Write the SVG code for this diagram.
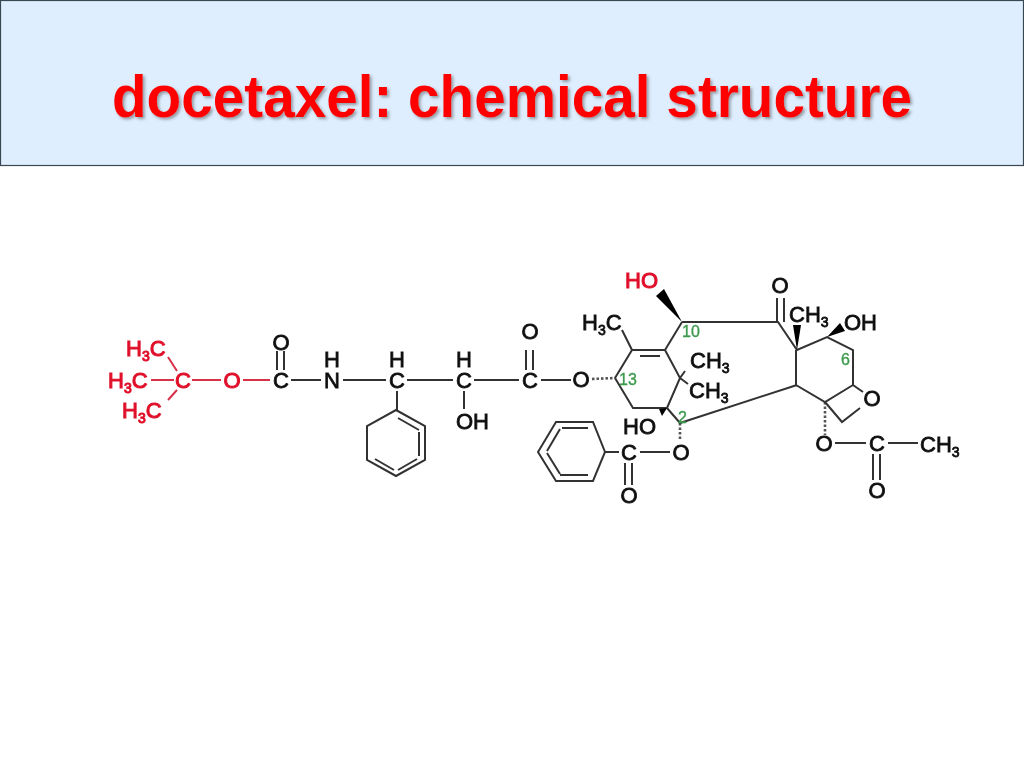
<svg xmlns="http://www.w3.org/2000/svg" width="1024" height="768" viewBox="0 0 1024 768">
<defs>
<filter id="ts" x="-5%" y="-20%" width="110%" height="140%"><feDropShadow dx="2" dy="2" stdDeviation="1.5" flood-color="#555" flood-opacity="0.55"/></filter>
<filter id="soft" x="-5%" y="-5%" width="110%" height="110%"><feGaussianBlur stdDeviation="0.5"/></filter>
</defs>
<style>
.a{font-family:"Liberation Sans",Arial,sans-serif;font-size:22px;fill:#111;stroke:#111;stroke-width:.8}
.am{text-anchor:middle}
.r{fill:#e0102a;stroke:#e0102a;stroke-width:1}
.s{font-size:14px}
.n{font-family:"Liberation Sans",Arial,sans-serif;font-size:16px;fill:#3d9a4e;stroke:#3d9a4e;stroke-width:.35}
.b{fill:none;stroke:#333;stroke-width:2}
.br{fill:none;stroke:#d8304a;stroke-width:2}
.d{fill:none;stroke:#555;stroke-width:2.6;stroke-dasharray:2.5 2}
.w{fill:#000}
</style>
<rect width="1024" height="768" fill="#fff"/>
<g id="header">
<rect x="0.5" y="0.5" width="1023" height="165" fill="#deeeff" stroke="#3a4650" stroke-width="1.2"/>
<text x="512" y="117" text-anchor="middle" font-family="Liberation Sans,Arial,sans-serif" font-weight="bold" font-size="59" fill="#ff0000" textLength="800" lengthAdjust="spacingAndGlyphs" filter="url(#ts)">docetaxel: chemical structure</text>
</g>
<g filter="url(#soft)">
<g id="connectors">
<path class="br" d="M168 357L177 371M151 380H174M168 400L177 390M192 380H221M243 380H270"/>
<path class="b" d="M277 351V370M284 351V370M291 380H321M343 380H386M407 380H453M474 380H519M526 350V370M533 350V370M541 380H571M397 391V410M464 391V409"/>
<path class="b" d="M396 410L425 426V460L396 476L367 460V426ZM398 418L419 430M419 432V456M417 459L398 470M375 459L394 470"/>
<path class="d" d="M592 379L615 378M680 423V441M825 402V435"/>
<path class="b" d="M615 378L632 350H665L682 322M640 356H660M622 330L632 350M665 350L680 378L667 408H633L615 378M667 408L680 423L797 385M680 378L685 371M680 378L688 384"/>
<path class="b" d="M682 322H778L797 350L827 337L853 350V385L863 392M853 385L825 402L796 385V350M825 402L842 422L860 408M777 322V298M784 322V298"/>
<path class="b" d="M835 443H866M888 443H918M873 454V480M880 454V480"/>
<path class="b" d="M670 452H640M605 452H619M625 463V485M632 463V485"/>
<path class="b" d="M538 452L556 422H593L605 452L593 481H556ZM547 451L560 429M562 428H588M560 475H588M547 453L560 474"/>
<polygon class="w" points="682,322 656,296 664,289"/>
<polygon class="w" points="797,350 793,325 801,325"/>
<polygon class="w" points="827,337 840,323 845,331"/>
<polygon class="w" points="667,408 659,409 662,416"/>
</g>
<g id="boc">
<text class="a r" x="126" y="356">H<tspan class="s" dy="5">3</tspan><tspan dy="-5">C</tspan></text>
<text class="a r" x="108" y="388">H<tspan class="s" dy="5">3</tspan><tspan dy="-5">C</tspan></text>
<text class="a r" x="122" y="418">H<tspan class="s" dy="5">3</tspan><tspan dy="-5">C</tspan></text>
<text class="a am r" x="183" y="388">C</text>
<text class="a am r" x="232" y="388">O</text>
</g>
<g id="side-chain">
<text class="a am" x="281" y="388">C</text>
<text class="a am" x="281" y="350">O</text>
<text class="a am" x="332" y="388">N</text>
<text class="a am" x="332" y="367">H</text>
<text class="a am" x="397" y="388">C</text>
<text class="a am" x="397" y="367">H</text>
<text class="a am" x="464" y="388">C</text>
<text class="a am" x="464" y="367">H</text>
<text class="a" x="456" y="429">OH</text>
<text class="a am" x="530" y="388">C</text>
<text class="a am" x="530" y="339">O</text>
<text class="a am" x="581" y="387">O</text>
</g>
<g id="core">
<text class="a r" x="625" y="288">HO</text>
<text class="a" x="582" y="330">H<tspan class="s" dy="5">3</tspan><tspan dy="-5">C</tspan></text>
<text class="a" x="690" y="368">CH<tspan class="s" dy="5">3</tspan></text>
<text class="a" x="689" y="398">CH<tspan class="s" dy="5">3</tspan></text>
<text class="a" x="623" y="434">HO</text>
<text class="a am" x="780" y="293">O</text>
<text class="a" x="789" y="322">CH<tspan class="s" dy="5">3</tspan></text>
<text class="a" x="844" y="330">OH</text>
<text class="a am" x="872" y="406">O</text>
</g>
<g id="benzoate">
<text class="a am" x="681" y="460">O</text>
<text class="a am" x="629" y="460">C</text>
<text class="a am" x="629" y="503">O</text>
</g>
<g id="acetate">
<text class="a am" x="824" y="451">O</text>
<text class="a am" x="877" y="451">C</text>
<text class="a am" x="877" y="498">O</text>
<text class="a" x="920" y="452">CH<tspan class="s" dy="5">3</tspan></text>
</g>
<g id="position-numbers">
<text class="n" x="682" y="337">10</text>
<text class="n" x="619" y="385">13</text>
<text class="n" x="841" y="365">6</text>
<text class="n" x="678" y="423">2</text>
</g>
</g>
</svg>
